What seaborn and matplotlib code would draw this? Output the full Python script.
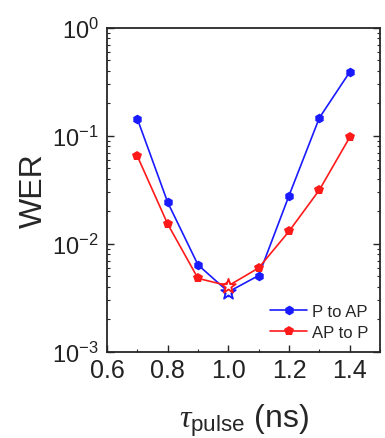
import numpy as np
import pandas as pd
import matplotlib
matplotlib.use("Agg")
import matplotlib.pyplot as plt
import seaborn as sns
from matplotlib.ticker import MultipleLocator, LogLocator, NullFormatter

# data
pulse = [0.7, 0.8, 0.9, 1.0, 1.1, 1.2, 1.3, 1.4]
wer_p_to_ap = [0.144, 0.0243, 0.0064, 0.0036, 0.0051, 0.028, 0.147, 0.39]
wer_ap_to_p = [0.065, 0.0153, 0.0048, 0.0041, 0.006, 0.0131, 0.0316, 0.097]
labels = ["P to AP", "AP to P"]
colors = ["#1a1aff", "#ff1a1a"]

sns.set_style("ticks")
plt.rcParams["font.family"] = ["Liberation Sans", "DejaVu Sans"]
plt.rcParams["mathtext.fontset"] = "custom"
plt.rcParams["mathtext.it"] = "Liberation Serif:italic"
plt.rcParams["mathtext.rm"] = "Liberation Sans"

df = pd.DataFrame({
    "pulse": pulse * 2,
    "WER": wer_p_to_ap + wer_ap_to_p,
    "dir": [labels[0]] * len(pulse) + [labels[1]] * len(pulse),
})

fig = plt.figure(figsize=(3.85, 4.39), dpi=100)
ax = fig.add_axes([0.278, 0.196, 0.709, 0.738])

sns.lineplot(data=df, x="pulse", y="WER", hue="dir", style="dir",
             palette=colors, markers=["h", "p"], dashes=False,
             markersize=7, linewidth=1.2, markeredgewidth=0, ax=ax)

# hollow stars at the minimum point
mid = df[df["pulse"] == 1.0]
for (lab, c) in zip(labels, colors):
    sub = mid[mid["dir"] == lab]
    ax.scatter(sub["pulse"], sub["WER"], marker="*", s=120,
               facecolor="white", edgecolor=c, linewidth=1.3, zorder=5)

ax.set_yscale("log")
ax.set_ylim(1e-3, 1)
ax.set_xlim(0.6, 1.5)
ax.xaxis.set_major_locator(MultipleLocator(0.2))
ax.xaxis.set_minor_locator(MultipleLocator(0.1))
ax.yaxis.set_major_locator(LogLocator(base=10, numticks=10))
ax.yaxis.set_minor_locator(LogLocator(base=10, subs=np.arange(2, 10), numticks=10))
ax.yaxis.set_minor_formatter(NullFormatter())
ax.tick_params(which="both", direction="in", right=True, top=False,
               labelcolor="#222222")
ax.tick_params(which="major", length=5, width=1)
ax.tick_params(which="minor", length=2.5, width=0.8)
ax.tick_params(axis="x", labelsize=18, pad=4)
ax.tick_params(axis="y", labelsize=17, pad=6)
for s in ax.spines.values():
    s.set_linewidth(1.3)

ax.set_ylabel("WER", fontsize=23, labelpad=2)
ax.set_xlabel(r"$\tau_{\mathrm{pulse}}$ (ns)", fontsize=23, labelpad=14)

handles, _ = ax.get_legend_handles_labels()
ax.legend(handles=handles, labels=labels, loc="lower right", frameon=False,
          fontsize=12, handlelength=2.2, handletextpad=0.3,
          borderaxespad=0.3, labelspacing=0.4)

fig.savefig("out.png", dpi=100)
